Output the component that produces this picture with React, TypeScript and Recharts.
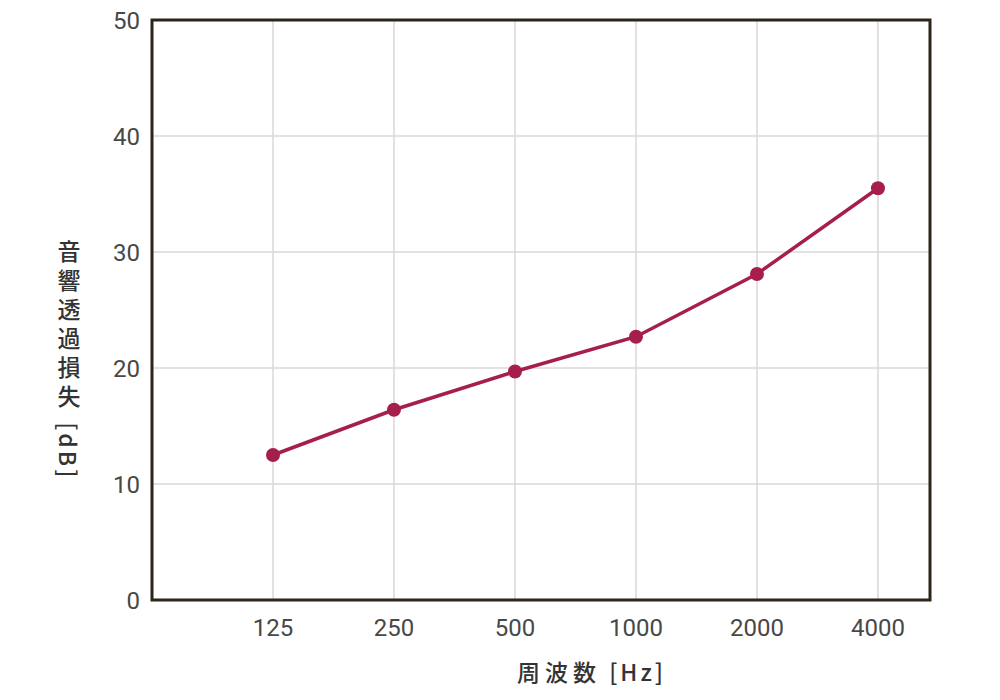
import { LineChart, Line, XAxis, YAxis, CartesianGrid, ReferenceArea, Label } from 'recharts';

// 周波数 (Hz) — plotted at evenly spaced positions 1..6
const frequencies = ['125', '250', '500', '1000', '2000', '4000'];
// 音響透過損失 (dB)
const lossDb = [12.5, 16.4, 19.7, 22.7, 28.1, 35.5];
const yTicks = [0, 10, 20, 30, 40, 50];

const data = frequencies.map((f, i) => ({ pos: i + 1, label: f, loss: lossDb[i] }));

const xDomainMax = 6.43;
const frameColor = '#2b2619';
const gridColor = '#ddd7d7';
const lineColor = '#a61f4b';
const tickStyle = { fontSize: 24, fill: '#484848', fontFamily: 'Roboto, "Noto Sans CJK JP", sans-serif' };
const titleFont = '"Noto Sans CJK JP", "Noto Sans", sans-serif';

export default function App() {
  return (
    <div style={{ position: 'absolute', left: 0, top: 0, width: 1000, height: 700, background: '#fff' }}>
      <LineChart width={1000} height={700} data={data} margin={{ top: 20, right: 70, left: 0, bottom: 0 }}>
        <CartesianGrid stroke={gridColor} strokeWidth={1.5} />
        <XAxis
          dataKey="pos"
          type="number"
          domain={[0, xDomainMax]}
          ticks={data.map((d) => d.pos)}
          tickFormatter={(v) => frequencies[v - 1]}
          axisLine={false}
          tickLine={false}
          tick={tickStyle}
          tickMargin={13}
          height={100}
        >
          <Label
            content={() => (
              <text x={517} y={681} textAnchor="start" fontSize={23} fill="#333" fontWeight={500} style={{ fontFamily: titleFont }}>
                <tspan letterSpacing={5}>周波数</tspan>
                <tspan letterSpacing={3}> [Hz]</tspan>
              </text>
            )}
          />
        </XAxis>
        <YAxis
          type="number"
          domain={[0, 50]}
          ticks={yTicks}
          axisLine={false}
          tickLine={false}
          tick={tickStyle}
          tickMargin={6}
          width={152}
        >
          <Label
            content={() => (
              <text x={69} y={240} textAnchor="start" fontSize={23} fill="#333" fontWeight={500} style={{ fontFamily: titleFont, writingMode: 'vertical-rl' }}>
                <tspan letterSpacing={6}>音響透過損失</tspan>
                <tspan letterSpacing={3}> [dB]</tspan>
              </text>
            )}
          />
        </YAxis>
        <ReferenceArea x1={0} x2={xDomainMax} y1={0} y2={50} fill="none" stroke={frameColor} strokeWidth={3} ifOverflow="visible" />
        <Line
          type="linear"
          dataKey="loss"
          stroke={lineColor}
          strokeWidth={3.5}
          dot={{ r: 7, fill: lineColor, stroke: lineColor, strokeWidth: 0 }}
          isAnimationActive={false}
        />
      </LineChart>
    </div>
  );
}
